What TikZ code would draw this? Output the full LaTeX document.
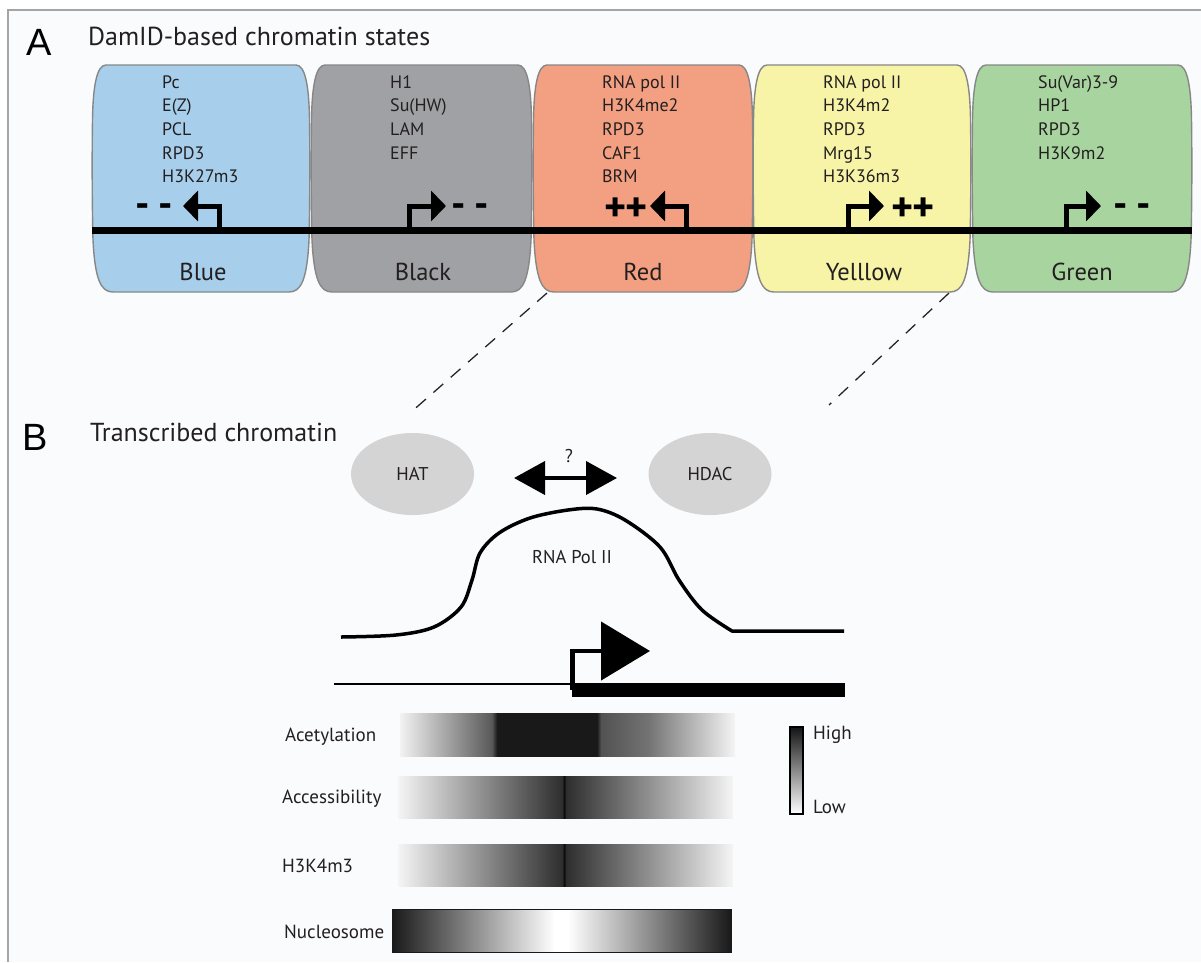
\documentclass[tikz,border=0pt]{standalone}
\usepackage{fontspec}
\setmainfont{PT Sans}
\newfontfamily\helv{Liberation Sans}
\usetikzlibrary{arrows.meta,shapes.geometric}
\definecolor{bgc}{RGB}{250,251,253}
\definecolor{framec}{RGB}{165,165,165}
\definecolor{cblue}{RGB}{167,207,236}
\definecolor{cblack}{RGB}{160,161,164}
\definecolor{cred}{RGB}{243,160,130}
\definecolor{cyellow}{RGB}{247,244,168}
\definecolor{cgreen}{RGB}{168,212,160}
\definecolor{edgec}{RGB}{135,135,135}
\definecolor{txt}{RGB}{35,31,32}
\definecolor{ellc}{RGB}{212,212,212}
\pgfdeclarehorizontalshading{acetsh}{100bp}{color(0bp)=(black!5); color(25bp)=(black!5); color(38.7bp)=(black!65); color(39.5bp)=(black!90); color(54.4bp)=(black!90); color(55.0bp)=(black!68); color(62bp)=(black!55); color(75bp)=(black!4); color(100bp)=(black!4)}
\pgfdeclarehorizontalshading{peaksh}{100bp}{color(0bp)=(black!4); color(25bp)=(black!4); color(49.5bp)=(black!82); color(49.8bp)=(black!96); color(50.1bp)=(black!82); color(75bp)=(black!4); color(100bp)=(black!4)}
\pgfdeclarehorizontalshading{nucsh}{100bp}{color(0bp)=(black!90); color(25bp)=(black!90); color(49.0bp)=(white); color(50.96bp)=(white); color(75bp)=(black!90); color(100bp)=(black!90)}
\newcommand\chromstatebox[3]{%
  \filldraw[boxedge, fill=#3] ({#1+14},65) -- ({#2-14},65)
   .. controls ({#2-5},65) and ({#2-1},85) .. ({#2-0.5},120)
   .. controls ({#2},150) and ({#2},200) .. ({#2-1},240)
   .. controls ({#2-3},280) and ({#2-9},292) .. ({#2-21},292)
   -- ({#1+21},292)
   .. controls ({#1+9},292) and ({#1+3},280) .. ({#1+1},240)
   .. controls ({#1},200) and ({#1},150) .. ({#1+0.5},120)
   .. controls ({#1+1},85) and ({#1+5},65) .. cycle;}
\begin{document}
\begin{tikzpicture}[x=1pt,y=-1pt,
  boxedge/.style={draw=edgec, line width=1.4pt},
  boxtxt/.style={anchor=base west, inner sep=0, text=txt, font=\fontsize{18}{21}\selectfont},
  statelabel/.style={anchor=base, inner sep=0, text=txt, font=\fontsize{24.5}{28}\selectfont},
  paneltitle/.style={anchor=base west, inner sep=0, text=txt, font=\fontsize{26}{30}\selectfont},
  panelletter/.style={anchor=base west, inner sep=0, text=black, font=\helv\fontsize{38}{38}\selectfont},
  promoter/.style={line width=5pt, line join=miter, -{Triangle[length=15pt,width=30pt]}},
  plustxt/.style={anchor=base, inner sep=0, text=black, font=\bfseries\fontsize{42}{42}\selectfont},
  dashtxt/.style={anchor=base, inner sep=0, text=black, font=\bfseries\fontsize{40}{40}\selectfont},
  enzyme/.style={ellipse, fill=ellc, minimum width=123pt, minimum height=82pt, inner sep=0, text=txt, font=\fontsize{18.5}{22}\selectfont},
  smalltxt/.style={inner sep=0, text=txt, font=\fontsize{18.5}{22}\selectfont},
  rowlabel/.style={anchor=base west, inner sep=0, text=txt, font=\fontsize{19}{22}\selectfont},
  zoomline/.style={dashed, dash pattern=on 13pt off 10pt, line width=1.3pt, black!85}
]
\useasboundingbox (0,0) rectangle (1201,962);
\fill[white] (0,0) rectangle (1201,962);
\fill[bgc] (8,10) rectangle (1201,962);
\draw[framec, line width=1.5pt] (8,962) -- (8,10) -- (1201,10);

% ---------- Panel A ----------
\node[panelletter] (lblA) at (26,55) {A};
\node[paneltitle] (titleA) at (88,45) {DamID-based chromatin states};

\chromstatebox{92}{310}{cblue}
\chromstatebox{311}{532}{cblack}
\chromstatebox{533}{753}{cred}
\chromstatebox{753}{971}{cyellow}
\chromstatebox{972}{1192}{cgreen}

\foreach \t [count=\i] in {Pc,E(Z),PCL,RPD3,H3K27m3}
  \node[boxtxt] (bluet\i) at (162,{88+23.7*(\i-1)}) {\t};
\foreach \t [count=\i] in {H1,Su(HW),LAM,EFF}
  \node[boxtxt] (blackt\i) at (390,{88+23.7*(\i-1)}) {\t};
\foreach \t [count=\i] in {RNA pol II,H3K4me2,RPD3,CAF1,BRM}
  \node[boxtxt] (redt\i) at (602,{88+23.7*(\i-1)}) {\t};
\foreach \t [count=\i] in {RNA pol II,H3K4m2,RPD3,Mrg15,H3K36m3}
  \node[boxtxt] (yellowt\i) at (823,{88+23.7*(\i-1)}) {\t};
\foreach \t [count=\i] in {Su(Var)3-9,HP1,RPD3,H3K9m2}
  \node[boxtxt] (greent\i) at (1038,{88+23.7*(\i-1)}) {\t};

\node[statelabel] (lblBlue) at (203,280) {Blue};
\node[statelabel] (lblBlack) at (423,280) {Black};
\node[statelabel] (lblRed) at (643,280) {Red};
\node[statelabel] (lblYellow) at (864,280) {Yelllow};
\node[statelabel] (lblGreen) at (1082,280) {Green};

% chromosome line
\draw[line width=7pt, black] (92,230) -- (1192,230);

% promoters
\draw[promoter] (219,231) -- (219,206) -- (183,206);
\draw[promoter] (409.5,231) -- (409.5,206) -- (446,206);
\draw[promoter] (686,231) -- (686,206) -- (650,206);
\draw[promoter] (848,231) -- (848,206) -- (884,206);
\draw[promoter] (1066,231) -- (1066,206) -- (1101,206);

\node[dashtxt] (blueDash) at (154,217) {-\kern8pt-};
\node[dashtxt] (blackDash) at (470,217) {-\kern8pt-};
\node[dashtxt] (greenDash) at (1132,217) {-\kern8pt-};
\node[plustxt] (redPlus) at (626,221) {+\kern-2pt+};
\node[plustxt] (yellowPlus) at (913,221) {+\kern-2pt+};

% zoom lines
\coordinate (zRedTop) at (547,293);
\coordinate (zRedBot) at (410,413);
\coordinate (zYelTop) at (949,293);
\coordinate (zYelBot) at (829,405);
\draw[zoomline] (zRedTop) -- (zRedBot);
\draw[zoomline] (zYelTop) -- (zYelBot);

% ---------- Panel B ----------
\node[panelletter] (lblB) at (22,450) {B};
\node[paneltitle] (titleB) at (90,441) {Transcribed chromatin};

\node[enzyme] (hat) at (412.5,474) {HAT};
\node[enzyme] (hdac) at (710,474) {HDAC};
\coordinate (dArrL) at (514,478);
\coordinate (dArrR) at (617,478);
\draw[line width=4pt, {Triangle[length=31pt,width=33pt]}-{Triangle[length=31pt,width=33pt]}] (dArrL) -- (dArrR);
\node[smalltxt, anchor=base] (qmark) at (569,462) {?};

% RNA Pol II profile
\draw[line width=3.5pt, line join=round] plot[smooth, tension=0.55] coordinates {(341,637) (396,635) (434,627) (461,607) (472,580) (480,553) (499,533) (530,518) (568,510) (597,509) (625,520) (660,547) (679,580) (702,610) (732,631)} -- (844,631);
\node[smalltxt, anchor=base] (rnapol) at (572,563) {RNA Pol II};

% gene
\draw[line width=2pt] (334,684) -- (572,684);
\fill[black] (572,683) rectangle (845,697);
\draw[line width=4.5pt, line join=miter, -{Triangle[length=49pt,width=58pt]}] (572.5,690) -- (572.5,651) -- (650,651);

% gradient bars
\shade[shading=acetsh] (400,713) rectangle (735,756);
\shade[shading=peaksh] (398,776) rectangle (733,818);
\shade[shading=peaksh] (398,844) rectangle (733,886);
\shade[shading=nucsh] (392,909) rectangle (731,952);
\draw[line width=1pt, black!90] (392,909) rectangle (731,952);

\node[rowlabel] (rAcet) at (285,741.5) {Acetylation};
\node[rowlabel] (rAcc) at (282,803.5) {Accessibility};
\node[rowlabel] (rH3) at (282,872.5) {H3K4m3};
\node[rowlabel] (rNuc) at (284,938.5) {Nucleosome};

% legend
\shade[top color=black!92, bottom color=white] (790,727) rectangle (803,814);
\draw[line width=1.6pt, black] (790,727) rectangle (803,814);
\node[rowlabel] (lHigh) at (813,739.5) {High};
\node[rowlabel] (lLow) at (813,813.5) {Low};
\end{tikzpicture}
\end{document}
